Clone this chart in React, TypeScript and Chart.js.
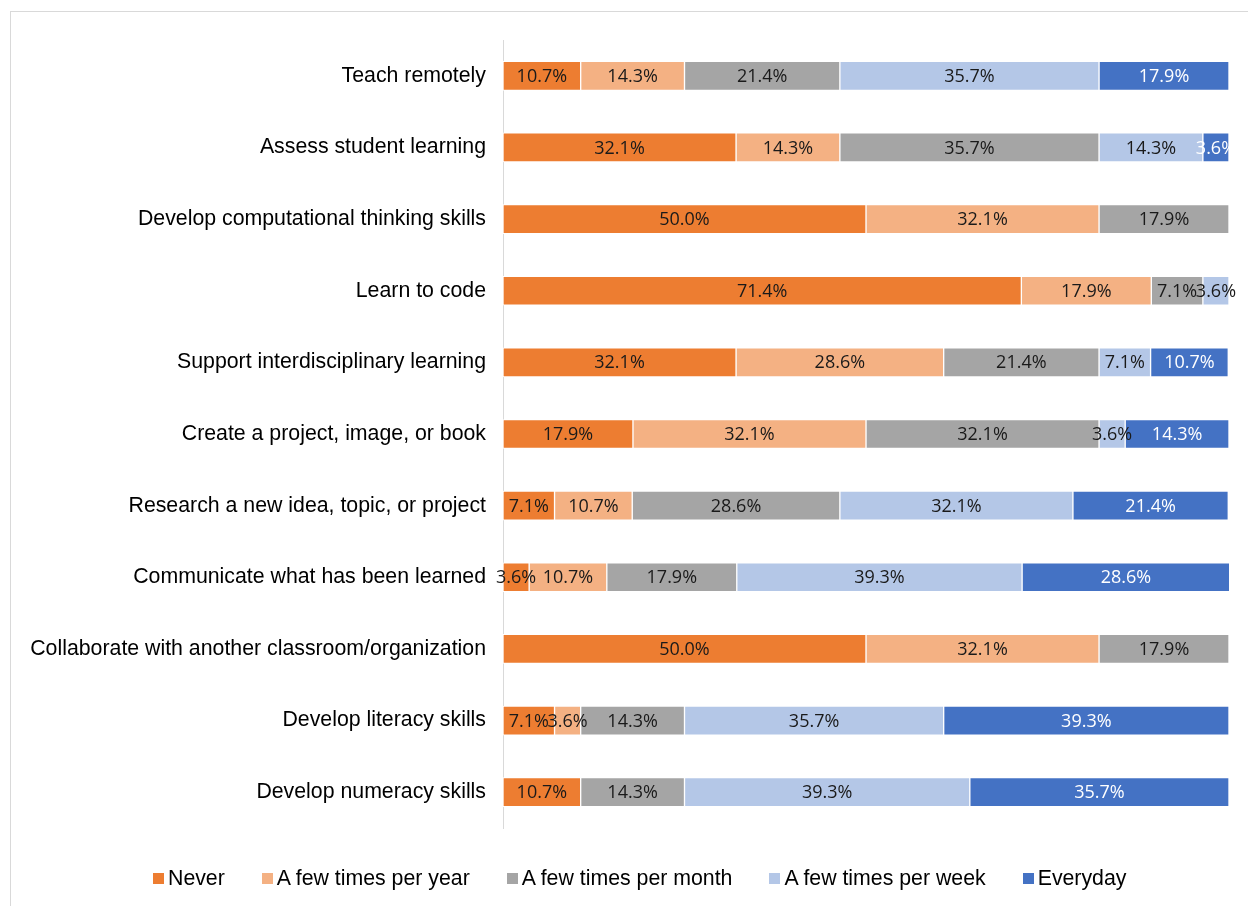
import React, { useEffect, useRef } from "react";
import { Chart, registerables } from "chart.js";

Chart.register(...registerables);

const categories = [
  "Teach remotely",
  "Assess student learning",
  "Develop computational thinking skills",
  "Learn to code",
  "Support interdisciplinary learning",
  "Create a project, image, or book",
  "Research a new idea, topic, or project",
  "Communicate what has been learned",
  "Collaborate with another classroom/organization",
  "Develop literacy skills",
  "Develop numeracy skills",
];

const never = [10.7, 32.1, 50.0, 71.4, 32.1, 17.9, 7.1, 3.6, 50.0, 7.1, 10.7];
const perYear = [14.3, 14.3, 32.1, 17.9, 28.6, 32.1, 10.7, 10.7, 32.1, 3.6, 0];
const perMonth = [21.4, 35.7, 17.9, 7.1, 21.4, 32.1, 28.6, 17.9, 17.9, 14.3, 14.3];
const perWeek = [35.7, 14.3, 0, 3.6, 7.1, 3.6, 32.1, 39.3, 0, 35.7, 39.3];
const everyday = [17.9, 3.6, 0, 0, 10.7, 14.3, 21.4, 28.6, 0, 39.3, 35.7];

const seriesNames = [
  "Never",
  "A few times per year",
  "A few times per month",
  "A few times per week",
  "Everyday",
];
const seriesColors = ["#ED7D31", "#F4B183", "#A5A5A5", "#B4C7E7", "#4472C4"];
const labelColors = ["#1A1A1A", "#1A1A1A", "#1A1A1A", "#1A1A1A", "#FFFFFF"];

const FONT = '"Liberation Sans", Arial, sans-serif';

const dataLabelPlugin = {
  id: "dataLabels",
  afterDatasetsDraw(chart: any) {
    const ctx = chart.ctx;
    ctx.save();
    ctx.font = '18px "Open Sans"';
    ctx.textAlign = "center";
    ctx.textBaseline = "middle";
    chart.data.datasets.forEach((ds: any, di: number) => {
      const meta = chart.getDatasetMeta(di);
      meta.data.forEach((bar: any, i: number) => {
        const v = ds.data[i];
        if (!v) return;
        const props = bar.getProps(["x", "y", "base"], true);
        const cx = (props.x + props.base) / 2;
        ctx.fillStyle = labelColors[di];
        ctx.fillText(v.toFixed(1) + "%", cx, props.y + 1);
      });
    });
    ctx.restore();
  },
};

export default function App() {
  const canvasRef = useRef<HTMLCanvasElement | null>(null);

  useEffect(() => {
    if (!canvasRef.current) return;
    const all = [never, perYear, perMonth, perWeek, everyday];
    const chart = new Chart(canvasRef.current, {
      type: "bar",
      data: {
        labels: categories,
        datasets: all.map((d, i) => ({
          label: seriesNames[i],
          data: d,
          backgroundColor: seriesColors[i],
          borderColor: "#FFFFFF",
          borderWidth: 1,
          borderSkipped: false,
          barThickness: 29,
        })),
      },
      options: {
        indexAxis: "y",
        animation: false,
        responsive: false,
        maintainAspectRatio: false,
        layout: { padding: { left: 0, right: 19, top: 40, bottom: 78 } },
        scales: {
          x: {
            stacked: true,
            min: 0,
            max: 100,
            display: false,
          },
          y: {
            stacked: true,
            grid: { display: false, drawTicks: false },
            border: { display: true, color: "#D9D9D9", width: 1 },
            ticks: {
              padding: 17,
              color: "#000000",
              font: { family: FONT, size: 21.3 },
            },
            afterFit: (s: any) => {
              s.width = 503;
            },
          },
        },
        plugins: {
          tooltip: { enabled: false },
          legend: { display: false },
        },
      },
      plugins: [dataLabelPlugin],
    } as any);
    return () => chart.destroy();
  }, []);

  return (
    <div
      style={{
        position: "fixed",
        left: 0,
        top: 0,
        width: 1248,
        height: 906,
        background: "#FFFFFF",
        overflow: "hidden",
      }}
    >
      <div
        style={{
          position: "absolute",
          left: 10,
          top: 11,
          width: 1300,
          height: 950,
          border: "1px solid #D9D9D9",
        }}
      />
      <canvas
        ref={canvasRef}
        width={1248}
        height={906}
        style={{ position: "absolute", left: 0, top: 0, width: 1248, height: 906 }}
      />
      <div
        style={{
          position: "absolute",
          left: 153,
          top: 866,
          height: 24,
          display: "flex",
          alignItems: "center",
          gap: 37,
          fontFamily: FONT,
          fontSize: 21.3,
          color: "#000000",
          whiteSpace: "nowrap",
          lineHeight: "24px",
        }}
      >
        {seriesNames.map((name, i) => (
          <div key={name} style={{ display: "flex", alignItems: "center" }}>
            <span
              style={{
                display: "inline-block",
                width: 11,
                height: 11,
                background: seriesColors[i],
                marginRight: 4,
              }}
            />
            <span>{name}</span>
          </div>
        ))}
      </div>
    </div>
  );
}
